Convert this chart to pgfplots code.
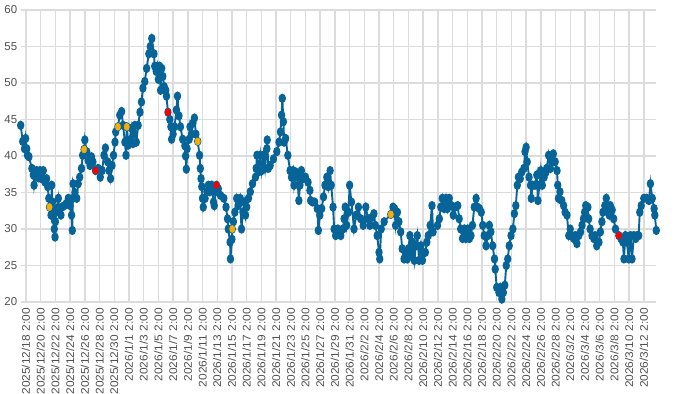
\documentclass[border=0pt]{standalone}
\usepackage{pgfplots}
\pgfplotsset{compat=1.18}
\usepackage{fontspec}
\setmainfont{Liberation Sans}
\definecolor{ser}{RGB}{6,100,152}
\definecolor{org}{RGB}{250,172,0}
\definecolor{redp}{RGB}{250,0,0}
\definecolor{gridc}{RGB}{220,220,220}
\definecolor{txt}{RGB}{80,80,80}
\begin{document}
\begin{tikzpicture}
\begin{axis}[
 at={(0,0)}, anchor=south west, scale only axis,
 width=635.6bp, height=292bp,
 xmin=-0.72, xmax=85.7, ymin=20, ymax=60,
 axis line style={draw=none},
 xtick={0,2,...,84},
 xticklabels={2025/12/18 2:00,2025/12/20 2:00,2025/12/22 2:00,2025/12/24 2:00,2025/12/26 2:00,2025/12/28 2:00,2025/12/30 2:00,2026/1/1 2:00,2026/1/3 2:00,2026/1/5 2:00,2026/1/7 2:00,2026/1/9 2:00,2026/1/11 2:00,2026/1/13 2:00,2026/1/15 2:00,2026/1/17 2:00,2026/1/19 2:00,2026/1/21 2:00,2026/1/23 2:00,2026/1/25 2:00,2026/1/27 2:00,2026/1/29 2:00,2026/1/31 2:00,2026/2/2 2:00,2026/2/4 2:00,2026/2/6 2:00,2026/2/8 2:00,2026/2/10 2:00,2026/2/12 2:00,2026/2/14 2:00,2026/2/16 2:00,2026/2/18 2:00,2026/2/20 2:00,2026/2/22 2:00,2026/2/24 2:00,2026/2/26 2:00,2026/2/28 2:00,2026/3/2 2:00,2026/3/4 2:00,2026/3/6 2:00,2026/3/8 2:00,2026/3/10 2:00,2026/3/12 2:00},
 ytick={20,25,...,60},
 grid=major, major grid style={gridc, line width=1.4bp},
 major tick length=0pt,
 tick label style={text=txt},
 yticklabel style={font=\fontsize{11.5}{13}\selectfont},
 xticklabel style={font=\fontsize{11.2}{13}\selectfont, rotate=90, xscale=1.07, anchor=east},
 xticklabel shift=2.5bp,
 /pgf/number format/assume math mode=true,
 clip=false,
]
\addplot[ser, line width=1.9bp, mark=*, mark size=2.7bp, mark options={yscale=1.35, fill=ser, draw=ser}] coordinates {
(-0.72,44.2)(-0.45,42)(-0.2,41)(-0.05,42.4)(0.1,41)(0.2,40.1)(0.4,39.9)(0.8,38.3)(1.0,37.4)(1.1,36)
(1.3,37.4)(1.45,38)(1.7,37)(1.9,38)(2.1,36.9)(2.35,38)(2.6,36.4)(2.8,36.9)(2.95,35.8)(3.1,34.2)
(3.2,33)(3.4,31.9)(3.5,36)(3.6,33.7)(3.7,31.9)(3.85,30)(3.95,28.9)(4.0,31)(4.15,32.8)(4.4,34.2)
(4.5,32.3)(4.75,31.9)(4.9,33)(5.2,33.2)(5.5,33.5)(5.75,34.2)(6.0,33.2)(6.2,31.9)(6.3,29.8)(6.35,34.2)
(6.4,36.2)(6.65,35)(6.9,34.2)(7.1,36.2)(7.3,37.1)(7.55,38.3)(7.7,40.1)(7.9,40.9)(8.0,42.2)(8.25,40.6)
(8.45,39.4)(8.7,38.7)(8.9,39.9)(9.1,39.2)(9.45,38)(9.8,38.3)(10.1,37.1)(10.35,38)(10.6,40.1)(10.8,41.1)
(11.1,39.2)(11.3,38)(11.5,36.9)(11.7,38.7)(11.9,40.1)(12.1,41.9)(12.2,43.3)(12.5,44)(12.75,45.6)(13.0,46.1)
(13.2,44.2)(13.45,41.9)(13.6,40.1)(13.7,44)(13.9,41.5)(14.1,42.2)(14.35,43.8)(14.55,41.7)(14.8,44.2)(15.0,41.9)
(15.25,44.2)(15.5,46)(15.7,47.4)(15.9,49.3)(16.15,50.2)(16.4,52)(16.7,54)(16.9,55)(17.1,56.1)(17.4,54)
(17.5,52.3)(17.7,51.6)(17.85,52.3)(18.0,50.5)(18.15,52.3)(18.3,49)(18.45,52)(18.6,50.9)(18.8,49.5)(19.0,49)
(19.1,48.2)(19.3,46)(19.55,45)(19.7,44)(19.8,42.3)(20.0,43)(20.2,44)(20.45,46.3)(20.6,48.2)(20.8,45.5)
(21.0,44)(21.3,42.3)(21.6,41.4)(21.7,40)(21.8,38.2)(21.9,41)(22.2,42.3)(22.3,44)(22.5,43)(22.7,44.5)
(22.9,45.2)(23.1,43)(23.35,42)(23.6,40.1)(23.7,38.3)(23.8,36.9)(23.9,35.8)(24.0,34.2)(24.1,33)(24.35,34.2)
(24.6,35.1)(24.8,36)(25.0,35.1)(25.25,36)(25.5,33.7)(25.6,33.2)(25.8,35.1)(25.9,36)(26.15,35.5)(26.45,34.6)
(26.9,34.2)(27.2,33)(27.4,31.4)(27.5,30)(27.75,28.2)(27.8,25.9)(28.0,28.6)(28.05,30)(28.2,31)(28.4,32.3)
(28.65,34.2)(28.85,33.2)(29.1,34.2)(29.3,30)(29.5,32.3)(29.65,33.7)(29.85,31.9)(30.0,33)(30.25,34.2)(30.5,35.1)
(30.8,36.2)(31.2,37.1)(31.3,38.3)(31.4,40.1)(31.6,37.8)(31.85,40.1)(32.05,38)(32.3,40.1)(32.5,38.3)(32.75,41)
(32.8,42.2)(32.95,38.3)(33.2,38.7)(33.65,39.6)(34.1,40.6)(34.4,41.9)(34.6,43.3)(34.75,45.6)(34.85,47.9)(35.0,44.7)
(35.1,41.9)(35.3,42.4)(35.6,40.1)(35.9,38)(36.1,37.1)(36.3,38)(36.45,36)(36.7,37.8)(36.9,37.1)(37.1,33.9)
(37.25,36)(37.45,38)(37.7,36.9)(38.0,37.1)(38.35,36.4)(38.6,35.3)(38.7,33.9)(38.95,33.7)(39.25,33.7)(39.6,32.8)
(39.75,29.8)(39.95,31.9)(40.2,32.8)(40.45,34.4)(40.65,36)(40.9,37.1)(41.1,35.8)(41.35,38)(41.5,36)(41.75,33)
(41.9,30)(42.1,29.1)(42.4,30)(42.8,29.1)(43.1,30)(43.25,31.4)(43.4,33)(43.6,30.5)(43.85,32.3)(44.0,36)
(44.25,33.7)(44.6,30)(44.9,31.9)(45.2,33)(45.5,31.4)(45.85,30.5)(46.2,33)(46.5,31.4)(46.75,30.5)(47.05,31.6)
(47.3,32.1)(47.5,30.5)(47.75,29.1)(48.0,26.8)(48.1,25.9)(48.3,30)(48.7,31)(49.6,32)(49.9,33)(50.1,32.8)
(50.25,30.5)(50.5,32.3)(50.7,31)(50.95,29.6)(51.15,27.3)(51.4,25.9)(51.6,26.8)(51.85,25.9)(52.0,27.3)(52.2,29.1)
(52.3,26.4)(52.55,28.2)(52.8,25.7)(53.0,27.7)(53.2,29.1)(53.45,25.7)(53.7,27.7)(53.9,25.7)(54.3,26.8)(54.5,28.2)
(54.7,29.1)(54.95,30.5)(55.2,33.2)(55.35,29.6)(55.95,30.5)(56.2,31.4)(56.4,33)(56.6,34.2)(56.85,32.8)(57.1,34.2)
(57.3,32.8)(57.55,34.2)(57.85,33.2)(58.1,31.9)(58.35,33)(58.7,33.2)(58.9,31.4)(59.1,30)(59.35,28.7)(59.6,30)
(59.8,28.7)(60.05,30)(60.3,28.7)(60.5,29.1)(60.7,30.5)(60.95,33)(61.2,34.2)(61.4,33)(61.65,32.8)(61.9,32.3)
(62.1,30.5)(62.3,29.1)(62.55,27.7)(62.8,29.1)(63.0,30.5)(63.2,29.6)(63.45,27.7)(63.7,25.9)(63.8,24.5)(64.0,22)
(64.3,21.3)(64.5,22)(64.7,20.4)(64.9,21.3)(65.1,22.3)(65.3,25)(65.5,25.9)(65.7,27.7)(65.95,29.1)(66.2,30)
(66.4,32.1)(66.6,33.2)(66.8,36)(66.95,37.1)(67.2,36.9)(67.4,37.8)(67.7,38.3)(67.85,40.6)(68.0,41.2)(68.15,39.2)
(68.4,37.1)(68.6,36)(68.7,34.2)(68.9,36)(69.2,36)(69.45,37.4)(69.6,33.9)(69.8,36)(70.0,38)(70.2,36)
(70.45,37.1)(70.7,37.8)(70.8,38.3)(71.05,40.1)(71.3,38.3)(71.5,39.2)(71.7,40.3)(71.95,39.2)(72.2,38)(72.3,36)
(72.4,34.2)(72.6,35.1)(72.85,33.9)(73.1,33.2)(73.3,32.3)(73.55,31.9)(73.8,29.1)(74.0,30)(74.2,29.1)(74.45,28.7)
(74.7,29.1)(74.9,28)(75.15,29.1)(75.4,29.6)(75.6,30.5)(75.8,31.4)(75.95,32.3)(76.1,33.2)(76.4,33)(76.5,31.4)
(76.7,30)(76.95,29.1)(77.2,28.7)(77.4,29.1)(77.6,27.7)(77.9,28.2)(78.1,29.6)(78.3,31)(78.45,32.3)(78.7,33.2)
(78.9,34.2)(79.1,32.8)(79.3,31.9)(79.45,33.2)(79.7,32.6)(79.9,31.4)(80.15,30)(80.6,29.1)(80.9,28.7)(81.15,28.2)
(81.3,25.9)(81.5,29.1)(81.7,28.2)(81.95,25.9)(82.2,29.1)(82.4,25.9)(82.65,29.1)(82.9,28.7)(83.1,29.1)(83.3,29.1)
(83.45,32.3)(83.65,33.2)(84.0,34.2)(84.4,34.2)(84.7,33.9)(84.9,36.2)(85.15,34.2)(85.4,32.8)(85.5,31.9)(85.7,29.8)
};
\addplot[only marks, mark=*, mark size=2.7bp, mark options={yscale=1.35, fill=org, draw=org}] coordinates {
(3.2,33)(7.9,40.9)(12.5,44)(13.7,44)(23.35,42)(28.05,30)(49.6,32)
};
\addplot[only marks, mark=*, mark size=2.7bp, mark options={yscale=1.35, fill=redp, draw=redp}] coordinates {
(9.45,38)(19.3,46)(25.9,36)(80.6,29.1)
};
\end{axis}
\pgfresetboundingbox
\useasboundingbox (-20.7bp,-92bp) rectangle (679.3bp,302bp);
\end{tikzpicture}
\end{document}
